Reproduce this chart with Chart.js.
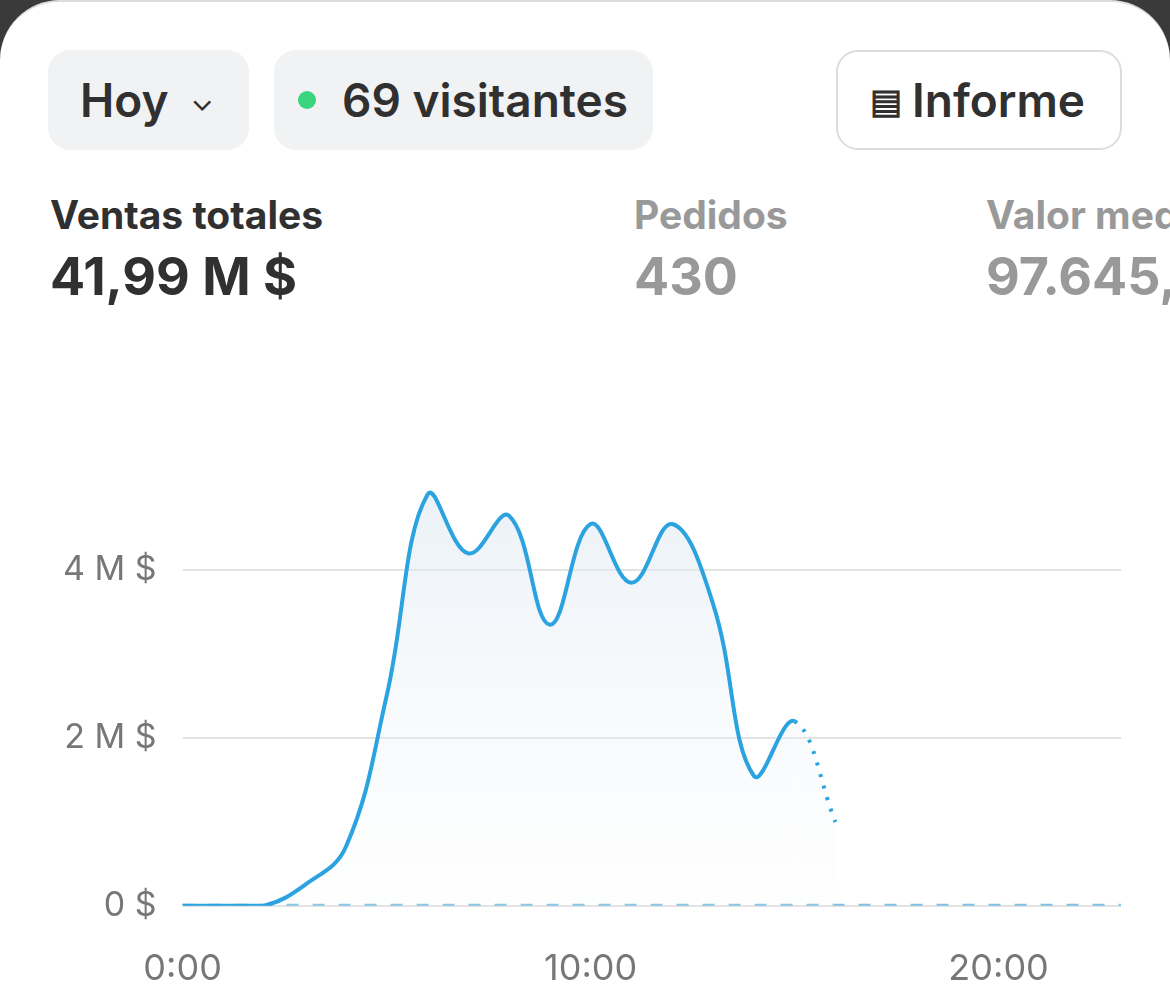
<!DOCTYPE html>
<html><head><meta charset="utf-8">
<script src="https://cdn.jsdelivr.net/npm/chart.js@4"></script>
<style>
body{margin:0;width:1170px;height:999px;background:#3a3a3a;font-family:Inter,"Noto Sans",sans-serif;overflow:hidden}
.card{position:absolute;left:0;top:0;width:1170px;height:1040px;background:#fff;border-radius:60px 60px 0 0;border-top:2px solid #ddd}
.btn{position:absolute;top:48px;height:100px;border-radius:22px;background:#f1f2f3;display:flex;align-items:center;font-size:46px;font-weight:600;color:#303030;box-sizing:border-box}
.lbl{position:absolute;font-size:39px;font-weight:700}
.val{position:absolute;font-size:52px;font-weight:700;top:243px}
#wrap{position:absolute;left:37px;top:356px;width:1118px;height:669px}
</style></head><body>
<div class="card">
<div class="btn" style="left:48px;width:201px;padding-left:32px">Hoy <span style="font-size:30px;margin-left:22px;font-weight:400">&#8964;</span></div>
<div class="btn" style="left:274px;width:379px;padding-left:24px"><span style="width:18px;height:18px;border-radius:50%;background:#3ad47f;display:inline-block;margin-right:26px"></span>69 visitantes</div>
<div class="btn" style="left:836px;width:286px;background:#fff;border:2px solid #ddd;padding-left:32px"><span style="font-size:34px;margin-right:10px">&#9636;</span>Informe</div>
<div class="lbl" style="left:50px;top:189px;color:#303030">Ventas totales</div>
<div class="val" style="left:50px;color:#303030">41,99 M $</div>
<div class="lbl" style="left:634px;top:189px;color:#999">Pedidos</div>
<div class="val" style="left:634px;color:#999">430</div>
<div class="lbl" style="left:986px;top:189px;color:#999;white-space:nowrap">Valor medio</div>
<div class="val" style="left:986px;color:#999;white-space:nowrap">97.645,</div>
</div>
<div id="wrap"><canvas id="c"></canvas></div>
<script>
const hours = ['0:00','1:00','2:00','3:00','4:00','5:00','6:00','7:00','8:00','9:00','10:00','11:00','12:00','13:00','14:00','15:00','16:00','17:00','18:00','19:00','20:00','21:00','22:00','23:00'];
const today = [0,0,0,0.25,0.7,2.5,4.9,4.2,4.65,3.35,4.55,3.85,4.55,3.6,1.55,2.2,1.0];
const previous = [0,0,0,0,0,0,0,0,0,0,0,0,0,0,0,0,0,0,0,0,0,0,0,0];
const yTicks = [0,2000000,4000000];
const lastSolid = 15;

const ctx = document.getElementById('c').getContext('2d');
const grad = ctx.createLinearGradient(0,130,0,560);
grad.addColorStop(0,'rgba(222,232,242,0.6)');
grad.addColorStop(1,'rgba(244,247,250,0.1)');

new Chart(ctx,{
  type:'line',
  data:{labels:hours,datasets:[
    {data:today.map(v=>v*1e6),borderColor:'#2ba3e0',borderWidth:4,backgroundColor:grad,fill:true,tension:0.4,pointRadius:0,
     segment:{borderDash:c=>c.p0DataIndex>=lastSolid?[3,9]:undefined}},
    {data:previous,borderColor:'#80c0e2',borderWidth:4,borderDash:[12,14],pointRadius:0,fill:false}
  ]},
  options:{responsive:true,maintainAspectRatio:false,animation:false,
    layout:{padding:{left:0,right:0,top:15,bottom:0}},
    plugins:{legend:{display:false},tooltip:{enabled:false}},
    scales:{
      x:{grid:{display:false},border:{display:false},
        ticks:{color:'#777',padding:34,font:{size:36,family:'Inter'},maxRotation:0,autoSkip:false,
          callback:(v,i)=>i%10===0?hours[i]:''}},
      y:{min:0,max:6000000,grid:{color:'#e3e3e3',lineWidth:2,drawTicks:false},border:{display:false},
        afterBuildTicks:a=>{a.ticks=yTicks.map(v=>({value:v}))},
        ticks:{color:'#777',padding:26,font:{size:34,family:'Inter'},callback:v=>v===0?'0 $':(v/1e6)+' M $'}}
    }}
});
</script>
</body></html>
